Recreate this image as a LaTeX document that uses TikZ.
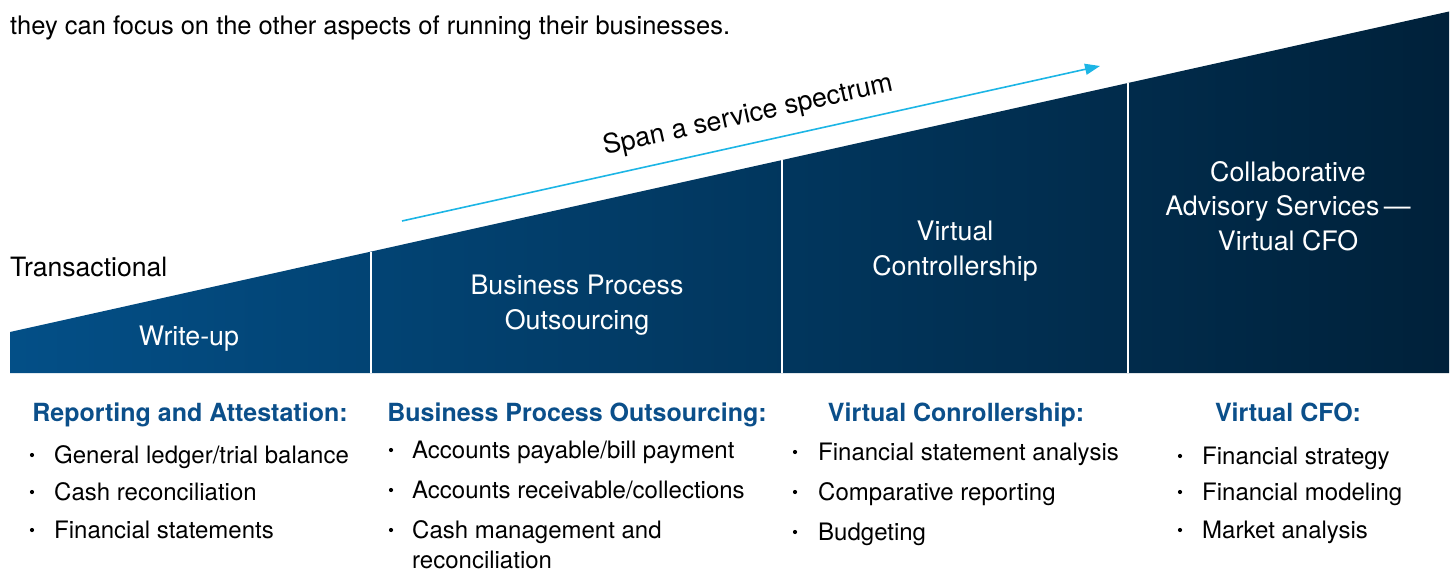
\documentclass[tikz,border=0pt]{standalone}
\usepackage{fontspec}
\setmainfont{TeX Gyre Heros}
\usetikzlibrary{arrows.meta}
\definecolor{shapeL}{HTML}{034F87}
\definecolor{shapeR}{HTML}{00213A}
\definecolor{headblue}{HTML}{0B4F8A}
\definecolor{arrowc}{HTML}{1CB5E5}
\begin{document}
\begin{tikzpicture}[x=1pt,y=-1pt,
  lab/.style={font=\fontsize{26.8}{34.5}\selectfont, text=white, align=center, inner sep=0},
  head/.style={font=\fontsize{25}{28}\selectfont\bfseries, text=headblue, anchor=base, inner sep=0},
  item/.style={font=\fontsize{24}{32}\selectfont, anchor=base west, inner sep=0},
  bul/.style={circle, fill=black, inner sep=0, minimum size=4.2pt},
  plain/.style={font=\fontsize{25.5}{30}\selectfont, anchor=base west, inner sep=0},
  sep/.style={white, line width=1.5pt}]
\useasboundingbox (0,0) rectangle (1455,572);
% top text
\node[plain] (intro) at (10,35) {they can focus on the other aspects of running their businesses.};
% wedge
\shade[left color=shapeL, right color=shapeR] (10,373) -- (10,332) -- (1449,11.5) -- (1449,373) -- cycle;
\draw[sep] (371,373) -- (371,251.6);
\draw[sep] (782,373) -- (782,160.1);
\draw[sep] (1128,373) -- (1128,83.0);
% arrow
\coordinate (a0) at (402,221);
\coordinate (a1) at (1100,66);
\draw[arrowc, line width=1.6pt, -{Triangle[length=15pt,width=11pt]}] (a0) -- (a1);
\node[font=\fontsize{26.8}{30}\selectfont, rotate=12.5, inner sep=0] (span) at (748,116) {Span a service spectrum};
\node[plain, font=\fontsize{26.6}{30}\selectfont] (trans) at (10,276) {Transactional};
% wedge labels
\node[lab] (wu) at (189,339) {Write-up};
\node[lab] (bpo) at (577,305) {Business Process\\Outsourcing};
\node[lab] (vc) at (955,251) {Virtual\\Controllership};
\node[lab] (cas) at (1288,206) {Collaborative\\Advisory Services\,—\\Virtual CFO};
% headings
\node[head] (h1) at (190,421) {Reporting and Attestation:};
\node[head] (h2) at (577,421) {Business Process Outsourcing:};
\node[head] (h3) at (956,421) {Virtual Conrollership:};
\node[head] (h4) at (1288,421) {Virtual CFO:};
% column 1
\node[bul] (b11) at (32,455) {};
\node[item] (i11) at (54,463) {General ledger/trial balance};
\node[bul] (b12) at (32,492) {};
\node[item] (i12) at (54,500) {Cash reconciliation};
\node[bul] (b13) at (32,530) {};
\node[item] (i13) at (54,538) {Financial statements};
% column 2
\node[bul] (b21) at (391,450) {};
\node[item] (i21) at (412,458) {Accounts payable/bill payment};
\node[bul] (b22) at (391,490) {};
\node[item] (i22) at (412,498) {Accounts receivable/collections};
\node[bul] (b23) at (391,530) {};
\node[item] (i23) at (412,538) {Cash management and};
\node[item] (i23b) at (412,568) {reconciliation};
% column 3
\node[bul] (b31) at (795,452) {};
\node[item] (i31) at (818,460) {Financial statement analysis};
\node[bul] (b32) at (795,492) {};
\node[item] (i32) at (818,500) {Comparative reporting};
\node[bul] (b33) at (795,532) {};
\node[item] (i33) at (818,540) {Budgeting};
% column 4
\node[bul] (b41) at (1180,456) {};
\node[item] (i41) at (1202,464) {Financial strategy};
\node[bul] (b42) at (1180,492) {};
\node[item] (i42) at (1202,500) {Financial modeling};
\node[bul] (b43) at (1180,530) {};
\node[item] (i43) at (1202,538) {Market analysis};
\end{tikzpicture}
\end{document}
